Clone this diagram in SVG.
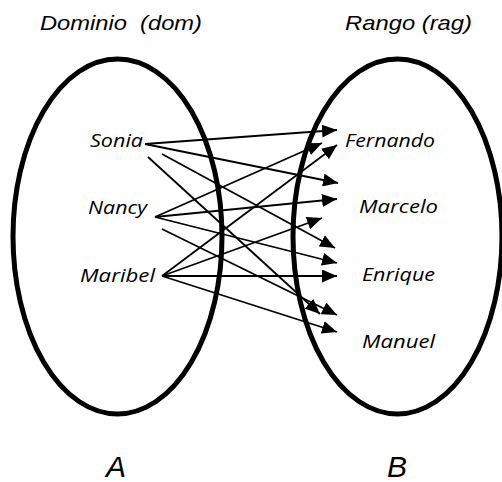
<svg xmlns="http://www.w3.org/2000/svg" width="502" height="482" viewBox="0 0 502 482">
  <style>
    .set { fill: none; stroke: #000; stroke-width: 5; }
    .title { font-family: "Liberation Sans", Arial, sans-serif; font-style: italic; font-size: 21px; fill: #000; }
    .big { font-family: "Liberation Sans", Arial, sans-serif; font-style: italic; font-size: 30px; fill: #000; }
    .item { font-family: "Open Sans", "Noto Sans", sans-serif; font-style: italic; font-size: 19px; fill: #000; }
    .link { stroke: #000; stroke-width: 1.8; fill: none; marker-end: url(#head); }
  </style>
  <defs>
    <marker id="head" markerUnits="userSpaceOnUse" markerWidth="15" markerHeight="13" refX="15" refY="6.5" orient="auto">
      <path d="M0,0 L15,6.5 L0,13 z" fill="#000"/>
    </marker>
  </defs>
  <rect width="502" height="482" fill="#fff"/>

  <!-- headings -->
  <text class="title" x="40" y="30" textLength="162" lengthAdjust="spacingAndGlyphs" xml:space="preserve">Dominio  (dom)</text>
  <text class="title" x="345" y="30" textLength="127" lengthAdjust="spacingAndGlyphs">Rango (rag)</text>

  <!-- set A -->
  <g id="set-a">
    <ellipse class="set" cx="117.5" cy="236.5" rx="104.5" ry="177.5"/>
    <text class="big" x="106" y="477">A</text>
  </g>
  <!-- set B -->
  <g id="set-b">
    <ellipse class="set" cx="397.5" cy="236.5" rx="104.5" ry="177.5"/>
    <text class="big" x="387" y="477">B</text>
  </g>

  <!-- domain elements -->
  <g id="sonia"><text class="item" x="90" y="147" textLength="53" lengthAdjust="spacingAndGlyphs">Sonia</text></g>
  <g id="nancy"><text class="item" x="88" y="214" textLength="59" lengthAdjust="spacingAndGlyphs">Nancy</text></g>
  <g id="maribel"><text class="item" x="80" y="282" textLength="75" lengthAdjust="spacingAndGlyphs">Maribel</text></g>

  <!-- range elements -->
  <g id="fernando"><text class="item" x="345" y="147" textLength="90" lengthAdjust="spacingAndGlyphs">Fernando</text></g>
  <g id="marcelo"><text class="item" x="359" y="213" textLength="79" lengthAdjust="spacingAndGlyphs">Marcelo</text></g>
  <g id="enrique"><text class="item" x="362" y="281" textLength="73" lengthAdjust="spacingAndGlyphs">Enrique</text></g>
  <g id="manuel"><text class="item" x="362" y="348" textLength="73" lengthAdjust="spacingAndGlyphs">Manuel</text></g>

  <!-- arrows A -> B -->
  <g id="connectors">
    <line class="link" x1="145" y1="144" x2="337" y2="130"/>
    <line class="link" x1="145" y1="144" x2="338" y2="183"/>
    <line class="link" x1="162" y1="154" x2="335" y2="248"/>
    <line class="link" x1="148" y1="157" x2="320" y2="314"/>
    <line class="link" x1="155" y1="217" x2="322" y2="143"/>
    <line class="link" x1="155" y1="217" x2="337" y2="199"/>
    <line class="link" x1="155" y1="217" x2="337" y2="263"/>
    <line class="link" x1="162" y1="229" x2="337" y2="315"/>
    <line class="link" x1="162" y1="276" x2="337" y2="145"/>
    <line class="link" x1="162" y1="276" x2="322" y2="218"/>
    <line class="link" x1="162" y1="276" x2="337" y2="276"/>
    <line class="link" x1="162" y1="276" x2="337" y2="332"/>
  </g>
</svg>
